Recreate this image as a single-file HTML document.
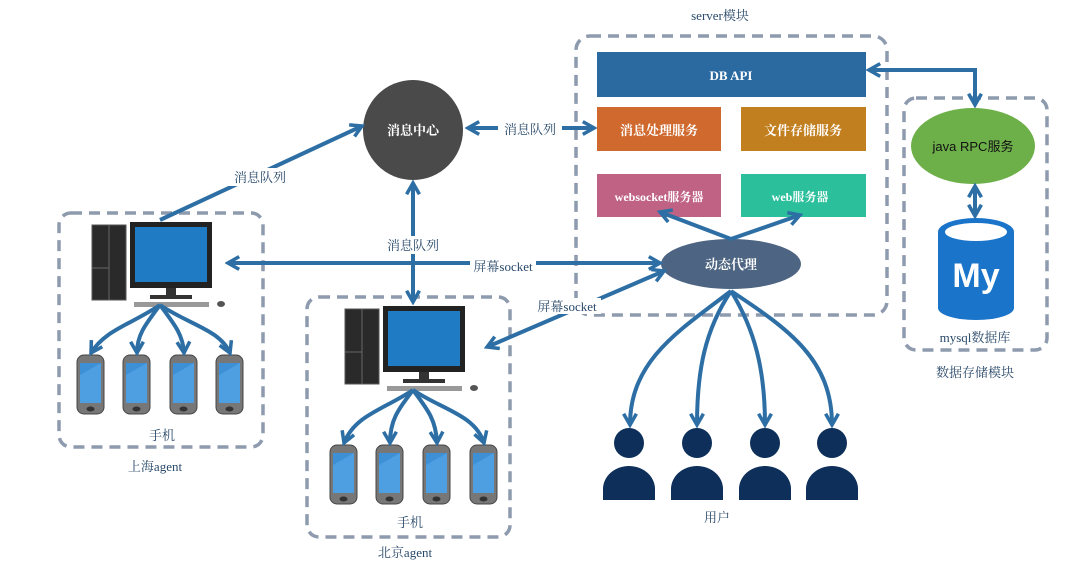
<!DOCTYPE html>
<html><head><meta charset="utf-8"><style>
body{margin:0;background:#fff}
svg{display:block}
text{font-family:"Liberation Serif","Noto Serif CJK SC",serif}
</style></head><body>
<svg width="1080" height="566" viewBox="0 0 1080 566" xmlns="http://www.w3.org/2000/svg">
<defs>
<marker id="ah" viewBox="0 0 10 10" refX="8" refY="5" markerWidth="4" markerHeight="4" orient="auto-start-reverse">
<path d="M1,1 L8,5 L1,9" fill="none" stroke="#2d6fa5" stroke-width="2.2"/>
</marker>
<g id="pc">
<rect x="0" y="3" width="34" height="75" fill="#2a2a2a" stroke="#555" stroke-width="1"/>
<line x1="17" y1="3" x2="17" y2="78" stroke="#666"/>
<line x1="0" y1="46" x2="17" y2="46" stroke="#666"/>
<rect x="38" y="0" width="82" height="66" fill="#222"/>
<rect x="43" y="5" width="72" height="55" fill="#1f7bc4"/>
<rect x="74" y="66" width="10" height="8" fill="#333"/>
<rect x="58" y="73" width="42" height="4" fill="#333"/>
<rect x="42" y="80" width="75" height="5" fill="#999"/>
<ellipse cx="129" cy="82" rx="4" ry="3" fill="#555"/>
</g>
<g id="ph">
<rect x="0" y="0" width="27" height="59" rx="7" fill="#777" stroke="#444"/>
<rect x="3" y="8" width="21" height="40" fill="#3d8fd6"/>
<path d="M3,48 L3,20 L24,8 L24,48Z" fill="#5aaae8" opacity=".6"/>
<ellipse cx="13.5" cy="54" rx="4" ry="2.5" fill="#333"/>
</g>
<g id="user">
<circle cx="0" cy="0" r="15" fill="#0d2f5a"/>
<path d="M-26,57 L-26,46 A26,23 0 0 1 26,46 L26,57 Z" fill="#0d2f5a"/>
</g>
</defs>

<g fill="none" stroke="#8e9aae" stroke-width="3.5" stroke-dasharray="11,7">
<rect x="576" y="36" width="311" height="279" rx="14"/>
<rect x="904" y="98" width="143" height="252" rx="12"/>
<rect x="59" y="213" width="204" height="234" rx="12"/>
<rect x="307" y="297" width="203" height="240" rx="12"/>
</g>

<rect x="597" y="52" width="269" height="45" fill="#2a6aa0"/>
<text x="731" y="80" fill="#fff" font-size="13" font-weight="bold" text-anchor="middle">DB API</text>
<rect x="597" y="107" width="124" height="44" fill="#d0692e"/>
<text x="659" y="135" fill="#fff" font-size="13" font-weight="bold" text-anchor="middle">消息处理服务</text>
<rect x="741" y="107" width="125" height="44" fill="#c27f1f"/>
<text x="803" y="135" fill="#fff" font-size="13" font-weight="bold" text-anchor="middle">文件存储服务</text>
<rect x="597" y="174" width="124" height="43" fill="#c06284"/>
<text x="659" y="201" fill="#fff" font-size="12" font-weight="bold" text-anchor="middle">websocket服务器</text>
<rect x="741" y="174" width="125" height="43" fill="#2bbf9b"/>
<text x="800" y="201" fill="#fff" font-size="12" font-weight="bold" text-anchor="middle">web服务器</text>

<ellipse cx="731" cy="264" rx="70" ry="25" fill="#4d6582"/>
<text x="731" y="269" fill="#fff" font-size="13" font-weight="bold" text-anchor="middle">动态代理</text>

<circle cx="413" cy="130" r="50" fill="#4a4a4a"/>
<text x="413" y="135" fill="#fff" font-size="13" font-weight="bold" text-anchor="middle">消息中心</text>

<ellipse cx="973" cy="146" rx="62" ry="38" fill="#6db04a"/>
<text x="973" y="151" fill="#111" font-size="13" text-anchor="middle" style="font-family:'Liberation Sans','Noto Sans CJK SC',sans-serif">java RPC服务</text>

<path d="M938,232 L938,308 A38,12 0 0 0 1014,308 L1014,232" fill="#1a74c9"/>
<ellipse cx="976" cy="232" rx="38" ry="14" fill="#1a74c9"/>
<ellipse cx="976" cy="232" rx="31" ry="9" fill="#fff"/>
<text x="976" y="287" fill="#fff" font-size="34" font-weight="bold" text-anchor="middle" style="font-family:'Liberation Sans',sans-serif">My</text>

<use href="#pc" x="92" y="222"/>
<use href="#pc" x="345" y="306"/>
<use href="#ph" x="77" y="355"/><use href="#ph" x="123" y="355"/><use href="#ph" x="170" y="355"/><use href="#ph" x="216" y="355"/>
<use href="#ph" x="330" y="445"/><use href="#ph" x="376" y="445"/><use href="#ph" x="423" y="445"/><use href="#ph" x="470" y="445"/>

<use href="#user" x="629" y="443"/><use href="#user" x="697" y="443"/><use href="#user" x="765" y="443"/><use href="#user" x="832" y="443"/>

<g fill="none" stroke="#2d6fa5" stroke-width="4">
<path d="M160,220 L362,126" marker-end="url(#ah)"/>
<path d="M468,128 L594,128" marker-start="url(#ah)" marker-end="url(#ah)"/>
<path d="M413,183 L413,302" marker-start="url(#ah)" marker-end="url(#ah)"/>
<path d="M228,263 L660,263" marker-start="url(#ah)" marker-end="url(#ah)"/>
<path d="M487,347 L664,271" marker-start="url(#ah)" marker-end="url(#ah)"/>
<path d="M731,239 L660,212" marker-end="url(#ah)"/>
<path d="M731,239 L800,215" marker-end="url(#ah)"/>
<path d="M869,70 L975,70 L975,105" marker-start="url(#ah)" marker-end="url(#ah)"/>
<path d="M975,186 L975,216" marker-start="url(#ah)" marker-end="url(#ah)"/>
<path d="M731,291 C680,330 630,360 630,425" marker-end="url(#ah)"/>
<path d="M731,291 C705,330 697,370 697,425" marker-end="url(#ah)"/>
<path d="M731,291 C755,330 765,370 765,425" marker-end="url(#ah)"/>
<path d="M731,291 C790,330 832,360 832,425" marker-end="url(#ah)"/>
<path d="M160,305 C130,325 105,330 91,353" marker-end="url(#ah)"/>
<path d="M160,305 C145,325 137,335 137,353" marker-end="url(#ah)"/>
<path d="M160,305 C175,325 183,335 184,353" marker-end="url(#ah)"/>
<path d="M160,305 C190,325 220,330 230,353" marker-end="url(#ah)"/>
<path d="M413,390 C383,410 355,415 344,443" marker-end="url(#ah)"/>
<path d="M413,390 C398,410 390,420 390,443" marker-end="url(#ah)"/>
<path d="M413,390 C428,410 436,420 437,443" marker-end="url(#ah)"/>
<path d="M413,390 C443,410 475,415 484,443" marker-end="url(#ah)"/>
</g>

<g font-size="13" fill="#2a4a6a" text-anchor="middle">
<rect x="228" y="168" width="64" height="18" fill="#fff"/>
<text x="260" y="182">消息队列</text>
<rect x="498" y="120" width="64" height="18" fill="#fff"/>
<text x="530" y="134">消息队列</text>
<rect x="382" y="236" width="64" height="18" fill="#fff"/>
<text x="413" y="250">消息队列</text>
<rect x="470" y="258" width="66" height="18" fill="#fff"/>
<text x="503" y="271">屏幕socket</text>
<rect x="533" y="298" width="68" height="16" fill="#fff"/>
<text x="567" y="311">屏幕socket</text>
<text x="720" y="20">server模块</text>
<text x="975" y="377">数据存储模块</text>
<text x="975" y="342">mysql数据库</text>
<text x="162" y="440">手机</text>
<text x="155" y="471">上海agent</text>
<text x="410" y="527">手机</text>
<text x="405" y="557">北京agent</text>
<text x="717" y="522">用户</text>
</g>
</svg>
</body></html>
